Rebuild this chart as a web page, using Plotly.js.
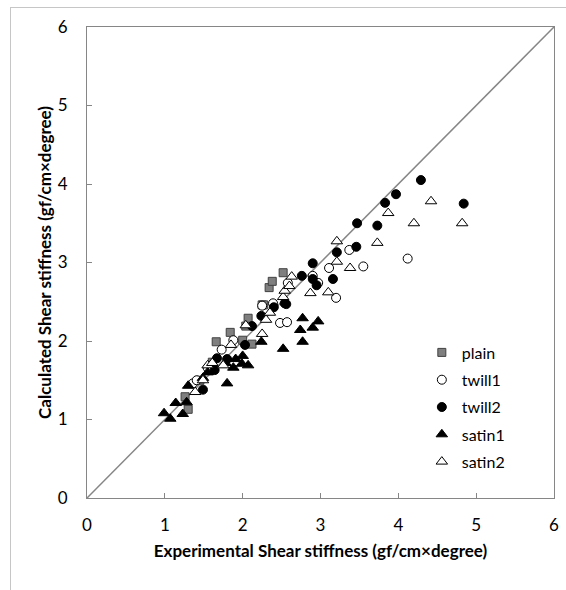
<!DOCTYPE html>
<html>
<head>
<meta charset="utf-8">
<script src="https://cdn.plot.ly/plotly-3.0.1.min.js"></script>
<style>
  html, body { margin: 0; padding: 0; background: #fff; }
  #wrap { position: relative; width: 566px; height: 590px; }
  #chart { position: absolute; left: 0; top: 0; width: 566px; height: 590px; }
  #frame { position: absolute; left: 10px; top: 7px; width: 560px; height: 590px;
           border-left: 1px solid #c6c6c6; border-top: 1px solid #c6c6c6; pointer-events: none; }
</style>
</head>
<body>
<div id="wrap"><div id="chart"></div><div id="frame"></div></div>
<script>
// Experimental (x) vs calculated (y) shear stiffness
const plainX  = [1.26, 1.30, 1.45, 1.61, 1.66, 1.84, 2.00, 2.04, 2.07, 2.12, 2.25, 2.27, 2.34, 2.38, 2.52];
const plainY  = [1.29, 1.13, 1.50, 1.73, 1.99, 2.11, 2.01, 2.19, 2.29, 1.96, 2.46, 2.46, 2.68, 2.76, 2.87];

const twill1X = [1.36, 1.41, 1.55, 1.73, 1.88, 2.25, 2.39, 2.48, 2.57, 2.58, 2.90, 2.97, 3.11, 3.20, 3.37, 3.55, 4.12];
const twill1Y = [1.46, 1.50, 1.66, 1.89, 2.01, 2.45, 2.48, 2.23, 2.24, 2.74, 2.83, 2.74, 2.93, 2.55, 3.16, 2.95, 3.05];

const twill2X = [1.49, 1.64, 1.67, 1.80, 2.03, 2.12, 2.24, 2.40, 2.54, 2.56, 2.76, 2.90, 2.90, 2.95, 3.16, 3.21, 3.46, 3.47, 3.73, 3.83, 3.97, 4.29, 4.84];
const twill2Y = [1.38, 1.63, 1.78, 1.77, 1.95, 2.19, 2.32, 2.43, 2.48, 2.47, 2.83, 2.99, 2.79, 2.71, 2.79, 3.13, 3.20, 3.50, 3.47, 3.76, 3.87, 4.05, 3.75];

const satin1X = [0.99, 1.07, 1.14, 1.23, 1.28, 1.30, 1.49, 1.55, 1.80, 1.78, 1.88, 1.91, 1.99, 2.00, 2.07, 2.24, 2.52, 2.74, 2.77, 2.77, 2.90, 2.97];
const satin1Y = [1.08, 1.01, 1.21, 1.07, 1.22, 1.43, 1.53, 1.60, 1.46, 1.72, 1.66, 1.77, 1.71, 1.81, 1.69, 1.99, 1.90, 2.14, 2.29, 1.99, 2.17, 2.25];

const satin2X = [1.39, 1.49, 1.55, 1.61, 1.75, 1.85, 2.04, 2.25, 2.30, 2.35, 2.52, 2.54, 2.60, 2.63, 2.87, 3.10, 3.21, 3.21, 3.38, 3.73, 3.87, 4.20, 4.42, 4.82];
const satin2Y = [1.35, 1.50, 1.69, 1.72, 1.69, 1.95, 2.20, 2.09, 2.27, 2.36, 2.56, 2.64, 2.70, 2.82, 2.61, 2.62, 3.01, 3.27, 2.93, 3.25, 3.63, 3.50, 3.78, 3.50];

const diagX = [0, 6];
const diagY = [0, 6];
const tickVals = [0, 1, 2, 3, 4, 5, 6];

const FONT = 'Lato, "Open Sans", sans-serif';

const traces = [
  { x: diagX, y: diagY, mode: 'lines', showlegend: false, hoverinfo: 'skip',
    line: { color: '#868686', width: 1.5 } },
  { x: plainX, y: plainY, mode: 'markers', name: 'plain', legendgroup: 'a',
    marker: { symbol: 'square', size: 8, color: '#7f7f7f', line: { color: '#404040', width: 1 } } },
  { x: twill1X, y: twill1Y, mode: 'markers', name: 'twill1', legendgroup: 'b',
    marker: { symbol: 'circle', size: 9, color: '#ffffff', line: { color: '#000000', width: 1 } } },
  { x: twill2X, y: twill2Y, mode: 'markers', name: 'twill2', legendgroup: 'c',
    marker: { symbol: 'circle', size: 9, color: '#000000', line: { color: '#000000', width: 1 } } },
  { x: satin1X, y: satin1Y, mode: 'markers', name: 'satin1', legendgroup: 'd',
    marker: { symbol: 'triangle-up', size: 10, color: '#000000', line: { color: '#000000', width: 1 } } },
  { x: satin2X, y: satin2Y, mode: 'markers', name: 'satin2', legendgroup: 'e',
    marker: { symbol: 'triangle-up', size: 10, color: '#ffffff', line: { color: '#000000', width: 1 } } }
];

const axisCommon = {
  range: [0, 6], tickvals: tickVals, showgrid: false, zeroline: false,
  showline: true, linecolor: '#868686', linewidth: 1, mirror: true,
  ticks: 'inside', ticklen: 5, tickcolor: '#868686',
  tickfont: { family: FONT, size: 17, color: '#000' }
};

const layout = {
  width: 566, height: 590,
  margin: { l: 87, r: 12, t: 27, b: 92 },
  paper_bgcolor: '#fff', plot_bgcolor: '#fff',
  showlegend: true,
  legend: { x: 0.717, y: 0.345, xanchor: 'left', yanchor: 'top',
            font: { family: FONT, size: 16, color: '#000' },
            tracegroupgap: 3.5, bgcolor: 'rgba(0,0,0,0)', itemsizing: 'trace' },
  xaxis: Object.assign({}, axisCommon, {
    ticklabelstandoff: 12,
    title: { text: 'Experimental Shear stiffness (gf/cm×degree)', standoff: 10,
             font: { family: FONT, size: 17, color: '#000', weight: 'bold' } }
  }),
  yaxis: Object.assign({}, axisCommon, {
    ticklabelstandoff: 15,
    title: { text: 'Calculated Shear stiffness (gf/cm×degree)', standoff: 1,
             font: { family: FONT, size: 17, color: '#000', weight: 'bold' } }
  })
};

Plotly.newPlot('chart', traces, layout, { staticPlot: true, displayModeBar: false });
</script>
</body>
</html>
